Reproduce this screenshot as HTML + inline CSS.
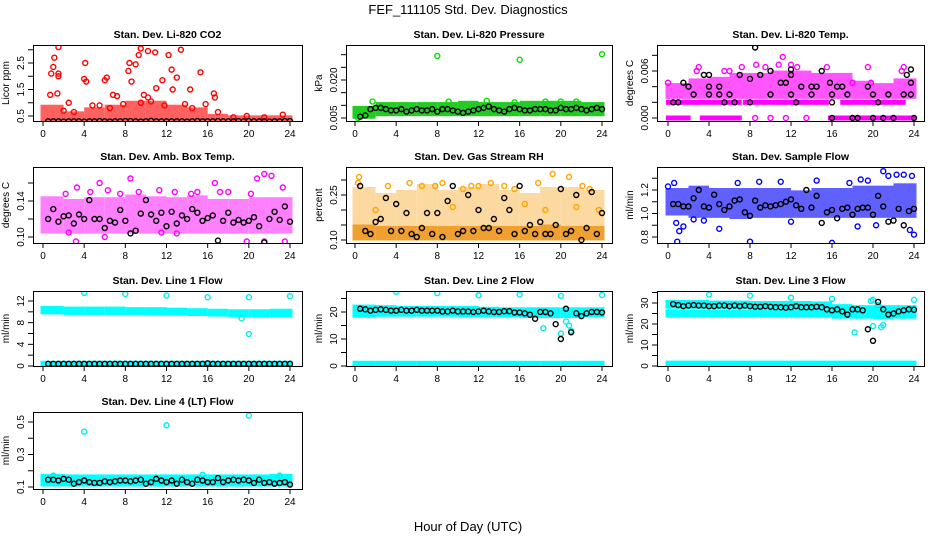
<!DOCTYPE html>
<html><head><meta charset="utf-8">
<style>
html,body{margin:0;padding:0;background:#fff;}
svg{display:block;font-family:"Liberation Sans",sans-serif;}
</style></head>
<body>
<svg id="chart" width="936" height="540" viewBox="0 0 936 540">
<text x="468" y="14" text-anchor="middle" font-size="13">FEF_111105  Std. Dev. Diagnostics</text>
<text x="468" y="531" text-anchor="middle" font-size="13">Hour of Day (UTC)</text>
</svg>
<script>
// ---------- data ----------
const halfHours = [0.5,1,1.5,2,2.5,3,3.5,4,4.5,5,5.5,6,6.5,7,7.5,8,8.5,9,9.5,10,10.5,11,11.5,12,12.5,13,13.5,14,14.5,15,15.5,16,16.5,17,17.5,18,18.5,19,19.5,20,20.5,21,21.5,22,22.5,23,23.5,24];
const binHours = [0,2,4,6,8,10,12,14,16,18,20,22];
const xTicks = [0,4,8,12,16,20,24];

// CO2
const co2BandLo = [0.3,0.3,0.3,0.3,0.3,0.3,0.3,0.3,0.3,0.3,0.3,0.3];
const co2BandHi = [0.85,0.6,0.75,0.85,1.0,1.0,0.85,0.75,0.5,0.45,0.45,0.45];
const co2H = [1.5,0.8,1.1,1.0,1.5,1.4,0.7,4.1,4.2,4.0,6.0,6.2,6.8,7.2,8.3,8.4,8.6,9.0,9.3,9.5,10.2,10.9,12.2,12.5,13.4,13.0,12.6,11.0,11.6,9.5,10.5,14.3,15.3,16.6,16.7,15.8,5.5,2.5,4.8,7.8,11.8,13.8,19.8,23.3,18.5,21.5,2,3,6.5,14.5,17,1.5,9.8,10.2];
const co2V = [3.1,2.1,2.7,2.35,2.1,1.35,1.3,2.5,1.8,1.9,1.85,1.95,1.3,1.25,2.2,2.5,1.8,2.45,2.8,3.05,2.95,2.9,2.8,2.25,3.0,1.95,1.5,1.55,1.85,1.0,1.05,1.5,2.15,1.35,1.2,0.95,0.9,1.0,0.9,0.95,0.9,0.95,0.5,0.55,0.45,0.45,0.7,0.65,0.8,0.8,0.65,2.0,1.3,1.2];
const co2Blk = [0.3,0.3,0.3,0.29,0.3,0.3,0.3,0.29,0.3,0.3,0.31,0.3,0.29,0.3,0.3,0.31,0.31,0.3,0.29,0.3,0.32,0.3,0.3,0.3,0.3,0.3,0.3,0.29,0.3,0.31,0.3,0.3,0.3,0.31,0.3,0.3,0.3,0.31,0.3,0.31,0.3,0.3,0.3,0.29,0.3,0.3,0.31,0.31];

// Pressure
const prBandLo = [0.0055,0.0065,0.0065,0.0065,0.0065,0.0065,0.0065,0.0065,0.0065,0.0065,0.0065,0.0065];
const prBandHi = [0.009,0.0105,0.0105,0.0105,0.0105,0.011,0.0105,0.0105,0.011,0.011,0.011,0.0105];
const prH = [8,16,24,0.3,1.7,9.1,12.8,18.5,20,21.5,0.1,15.5];
const prV = [0.0295,0.028,0.0302,0.005,0.0115,0.0115,0.0118,0.0115,0.0115,0.0115,0.006,0.0112];
const prBlk = [0.0055,0.006,0.0085,0.009,0.009,0.0085,0.008,0.008,0.0085,0.0075,0.008,0.0085,0.008,0.008,0.0085,0.0075,0.0085,0.0085,0.008,0.0075,0.007,0.0075,0.008,0.0085,0.009,0.0095,0.0085,0.008,0.0075,0.0085,0.009,0.0085,0.008,0.008,0.0085,0.0085,0.0085,0.008,0.008,0.009,0.0085,0.0085,0.009,0.0085,0.008,0.0085,0.009,0.0085];

// Li-820 temp
const tBandLo = [0.0027,0.0027,0.0027,0.0027,0.0027,0.0027,0.0027,0.0027,0.0027,0.0027,0.0027,0.0027];
const tBandHi = [0.0042,0.0048,0.005,0.0055,0.0055,0.0058,0.0058,0.0055,0.0055,0.0045,0.0042,0.0048];
const tSegStart = [0,3.3,15.8,0,7.5,17];
const tSegEnd = [2,7,24,7,15.5,23];
const tSegVal = [0,0,0,0.002,0.002,0.002];
const tH = [8.6,11.2,10.8,12.0,9.5,2.8,3.0,7.2,12.6,15.5,19.5,23.0,5.5,6.0,0,8.5,10,11.5,13.5,18,19.8,22.8];
const tV = [0.0068,0.0078,0.0068,0.0068,0.0065,0.006,0.0065,0.0065,0.0065,0.0065,0.0065,0.0065,0.006,0.006,0.0045,0,0,0,0,0.0045,0.0045,0.006];
const tBlkH = [0.5,1,1.5,2,2.5,3.5,4,4,4,5,5,5.5,6,6.5,7,8,8,8.5,9,10,10,11,11.5,12,12,12,12.5,13,14,14,14.5,15,15.8,16,16,16,16.5,17,17.5,18,18.5,19.5,20,20,20.5,21,21.5,22,23,23.3,23.7,23.7,23.7,24];
const tBlkV = [0.002,0.002,0.0045,0.004,0.003,0.0055,0.0055,0.004,0.003,0.004,0.003,0.002,0.003,0.002,0.0055,0.005,0.002,0.009,0.0055,0.006,0.003,0.0045,0.0045,0.0062,0.0055,0.003,0.002,0.004,0.003,0.004,0.004,0.006,0.0045,0.003,0.002,0,0.004,0.004,0.003,0,0,0.004,0,0.003,0.002,0,0.003,0,0.003,0.0055,0.0062,0.0045,0.003,0];

// Amb box temp
const abBandLo = [0.106,0.106,0.106,0.106,0.106,0.106,0.106,0.106,0.106,0.106,0.106,0.106];
const abBandHi = [0.143,0.14,0.142,0.142,0.145,0.143,0.142,0.144,0.14,0.14,0.142,0.142];
const abH = [3.3,5.5,8.5,11.3,15,16.7,20.8,21.5,22.2,23.3,3.2,19.8,21.5,23.5,6,2.5,11.5,6.3,9.3,14.4,18,2.2,4.6,7.5,12.8,17.2,20.2,13];
const abV = [0.155,0.16,0.165,0.152,0.15,0.16,0.165,0.17,0.168,0.155,0.095,0.095,0.095,0.095,0.1,0.105,0.105,0.152,0.15,0.148,0.15,0.148,0.15,0.148,0.15,0.15,0.148,0.104];
const abBlk = [0.12,0.131,0.117,0.123,0.124,0.115,0.125,0.12,0.141,0.12,0.12,0.11,0.118,0.116,0.13,0.118,0.104,0.107,0.126,0.141,0.125,0.118,0.127,0.112,0.128,0.115,0.124,0.12,0.131,0.127,0.118,0.121,0.124,0.096,0.118,0.127,0.116,0.119,0.116,0.118,0.122,0.112,0.094,0.12,0.128,0.119,0.134,0.117];

// Gas stream RH
const rhLowLo = [0.105,0.105,0.105,0.105,0.105,0.105,0.105,0.105,0.105,0.105,0.105,0.105];
const rhLowHi = [0.145,0.14,0.14,0.14,0.14,0.14,0.14,0.14,0.14,0.145,0.14,0.14];
const rhUpHi = [0.27,0.25,0.26,0.28,0.26,0.27,0.28,0.26,0.25,0.27,0.27,0.26];
const rhH = [0.4,0.3,3.2,5.3,7.8,8.5,11.3,13.2,14.5,15.5,17.8,19.2,20.8,22.1,22.8,6.5,10.5,12,2,4,9.5,16.5,18.5,21.5,23.7];
const rhV = [0.31,0.29,0.28,0.29,0.28,0.29,0.28,0.29,0.28,0.27,0.29,0.32,0.31,0.28,0.27,0.28,0.27,0.28,0.2,0.22,0.21,0.22,0.2,0.21,0.2];
const rhBlk = [0.28,0.13,0.12,0.16,0.17,0.24,0.13,0.22,0.13,0.19,0.12,0.11,0.14,0.19,0.12,0.19,0.11,0.23,0.28,0.12,0.13,0.25,0.13,0.2,0.14,0.14,0.17,0.13,0.24,0.2,0.12,0.28,0.13,0.15,0.12,0.16,0.12,0.12,0.15,0.27,0.12,0.13,0.25,0.1,0.14,0.26,0.12,0.19];

// Sample flow
const sfBandLo = [1.0,0.98,0.98,0.97,0.98,0.98,0.98,0.98,0.98,0.98,0.98,0.98];
const sfBandHi = [1.2,1.22,1.2,1.2,1.2,1.2,1.18,1.2,1.2,1.22,1.22,1.24];
const sfH = [0,0.6,0.8,1.1,1.5,0.9,5.0,8.0,16.0,24,3.5,11.0,17.7,18.8,19.5,21.0,21.5,22.3,23.0,23.8,14.5,6.8,8.9,2.5,12.0,18.5,23.6,20.3];
const sfV = [1.23,1.26,0.92,0.85,0.89,0.76,0.87,0.76,0.75,0.82,0.94,1.27,1.26,1.29,1.28,1.36,1.32,1.33,1.33,1.32,1.28,1.26,1.27,0.95,0.93,0.89,0.86,0.9];
const sfBlk = [1.08,1.08,1.06,1.06,1.13,1.2,1.06,1.05,1.16,1.08,1.03,1.06,1.11,1.12,1.01,0.98,1.11,1.05,1.07,1.06,1.07,1.08,1.1,1.12,1.07,1.04,1.2,1.05,1.15,0.92,1.01,1.03,0.96,1.04,1.05,0.99,1.04,1.05,1.05,0.99,1.15,1.06,0.93,0.94,1.04,0.9,1.02,1.04];

// Line 1 flow
const l1BandLo = [9.9,9.8,9.8,9.8,9.8,9.7,9.7,9.6,9.5,9.4,9.3,9.4];
const l1BandHi = [10.7,10.6,10.6,10.6,10.5,10.5,10.4,10.3,10.2,10.1,10.1,10.2];
const l1BaseLo = [0.2,0.2,0.2,0.2,0.2,0.2,0.2,0.2,0.2,0.2,0.2,0.2];
const l1BaseHi = [0.6,0.6,0.6,0.6,0.6,0.6,0.6,0.6,0.6,0.6,0.6,0.6];
const l1H = [4,8,12,16,20,24,20,19.3];
const l1V = [13.5,13.3,13,12.7,12.7,12.9,5.9,8.8];
const l1Blk = [0.4,0.4,0.4,0.4,0.4,0.4,0.4,0.4,0.4,0.4,0.4,0.4,0.4,0.4,0.4,0.4,0.4,0.4,0.4,0.4,0.4,0.4,0.4,0.4,0.4,0.4,0.4,0.4,0.4,0.4,0.4,0.5,0.4,0.4,0.4,0.4,0.4,0.4,0.4,0.4,0.4,0.4,0.4,0.4,0.4,0.4,0.4,0.4];

// Line 2 flow
const l2BandLo = [18.6,19,19,19,19,18.8,18.8,18.8,18.5,18.5,18.5,18.8];
const l2BandHi = [22,21.8,21.5,21.5,21.5,21.5,21.2,21,21,21,21,21];
const l2BaseLo = [0.2,0.2,0.2,0.2,0.2,0.2,0.2,0.2,0.2,0.2,0.2,0.2];
const l2BaseHi = [1.2,1.2,1.2,1.2,1.2,1.2,1.2,1.2,1.2,1.2,1.2,1.2];
const l2H = [4,8,12,16,20,24,18.3,20,20.8,21,20.5];
const l2V = [27.5,27,26.2,26.5,26,26.3,14,12,15,13,16.5];
const l2Blk = [21.2,21,20.5,20.8,21,20.8,20.5,20.5,20.8,20.5,20.5,20.8,20.5,20.5,20.5,20.5,20.2,20.2,20.5,20.2,20.2,20.2,20,20.2,20.5,20.2,20,20,20.3,20.3,19.8,19.8,19.5,19,17.5,20,20,19.5,15.5,10,21.2,12.5,19.5,18.5,19.5,20,20,19.8];

// Line 3 flow
const l3TopLo = [28.2,28.2,28.2,28.2,28.2,28.2,28.2,28.2,26.5,26.2,26.2,26.2];
const l3TopHi = [30.5,30.5,30.2,30.2,30,30,30,29.8,28.5,28,28,28];
const l3MidLo = [24,24,24,24,24,24,24,24,23.5,23.5,23.2,23.5];
const l3MidHi = [26,26,26,26,26,26,26,26,26,26,26,26];
const l3BaseLo = [0.2,0.2,0.2,0.2,0.2,0.2,0.2,0.2,0.2,0.2,0.2,0.2];
const l3BaseHi = [1.6,1.6,1.6,1.6,1.6,1.6,1.6,1.6,1.6,1.6,1.6,1.6];
const l3H = [4,8,12,16,20,24,18.2,20,20.8,21,20.5,19.8];
const l3V = [34,33.5,32.5,32,31.5,31.5,16,19,18.5,19.5,29,31];
const l3Blk = [29.5,29,28.5,28.8,29,28.8,28.8,28.5,28.5,28.8,28.8,28.5,28.8,28.5,28.8,28.5,28.2,28.2,28.5,28.2,28,28,27.8,28,28.5,28,28,28,28.2,28,27,26.5,27,26,24.5,27,27,26.5,17.5,12,30.5,27,24.5,25,26,26.5,27,26.8];

// Line 4 flow
const l4BandLo = [0.115,0.115,0.115,0.115,0.115,0.115,0.115,0.115,0.115,0.115,0.115,0.115];
const l4BandHi = [0.168,0.165,0.165,0.165,0.165,0.165,0.165,0.165,0.165,0.165,0.165,0.168];
const l4H = [4,12,20,1,15.5,23];
const l4V = [0.44,0.48,0.54,0.17,0.175,0.17];
const l4Blk = [0.145,0.145,0.14,0.15,0.145,0.12,0.13,0.14,0.13,0.125,0.125,0.135,0.13,0.135,0.14,0.14,0.135,0.14,0.145,0.12,0.13,0.15,0.14,0.13,0.14,0.12,0.145,0.13,0.12,0.145,0.14,0.13,0.13,0.155,0.13,0.14,0.145,0.14,0.145,0.14,0.125,0.145,0.125,0.13,0.12,0.125,0.13,0.115];

// ---------- layout ----------
const colX0 = [43,355,668], colX24 = [290,602,914];
const boxL = [33,346,657], boxR = [302,612,924];
const rowT = [45,167,291,412], rowB = [121,243,366,489];
const svg = document.getElementById('chart');
const NS = 'http://www.w3.org/2000/svg';
function mk(tag, attrs, parent){const e=document.createElementNS(NS,tag);for(const k in attrs)e.setAttribute(k,attrs[k]);(parent||svg).appendChild(e);return e;}

function panel(p){
  const c=p.col, r=p.row;
  const g=mk('g',{});
  
  
  const xs=h=>colX0[c]+h/24*(colX24[c]-colX0[c]);
  const ys=v=>p.py1+(v-p.v1)/(p.v2-p.v1)*(p.py2-p.py1);
  const clip=mk('clipPath',{id:'clip'+p.name},g);
  mk('rect',{x:boxL[c],y:rowT[r],width:boxR[c]-boxL[c],height:rowB[r]-rowT[r]},clip);
  const plot=mk('g',{'clip-path':'url(#clip'+p.name+')'},g);
  
  
  (p.bands||[]).forEach(b=>{
    b.lo.forEach((lo,i)=>{
      const h0=binHours[i], h1=(i+1<binHours.length?binHours[i+1]:24);
      const x0=xs(h0)-(i===0?2.5:0), x1=xs(h1)+(i===b.lo.length-1?2.5:0);
      const y0=ys(b.hi[i])-2, y1=ys(lo)+2;
      const rc=mk('rect',{x:x0,y:y0,width:x1-x0,height:y1-y0,fill:b.color},plot);
      
      
    });
  });
  (p.segs||[]).forEach((s,i)=>{
    const rc=mk('rect',{x:xs(s[0])-2,y:ys(s[2])-2.5,width:xs(s[1])-xs(s[0])+4,height:5,fill:p.color},plot);
    
    
  });
  const pt=(h,v,col,nm)=>{
    const e=mk('circle',{cx:xs(h),cy:ys(v),r:2.5,fill:'none',stroke:col,'stroke-width':1.4},plot);
    
    
  };
  p.ptH.forEach((h,i)=>pt(h,p.ptV[i],p.color,p.name+'-point'));
  p.blkH.forEach((h,i)=>pt(h,p.blkV[i],'#000',p.name+'-mean-point'));
  const bx=mk('rect',{x:boxL[c]+0.5,y:rowT[r]+0.5,width:boxR[c]-boxL[c],height:rowB[r]-rowT[r],fill:'none',stroke:'#000','stroke-width':1},g);
  
  
  const t=mk('text',{x:(boxL[c]+boxR[c])/2,y:rowT[r]-7,'text-anchor':'middle','font-size':10.5,'font-weight':'bold'},g);
  t.textContent=p.title;
  
  
  xTicks.forEach(h=>{
    const l=mk('line',{x1:xs(h),x2:xs(h),y1:rowB[r],y2:rowB[r]+5,stroke:'#000'},g);
    
    
    const tx=mk('text',{x:xs(h),y:rowB[r]+16,'text-anchor':'middle','font-size':10},g);
    tx.textContent=h;
    
    
  });
  p.yTicks.forEach(v=>{
    const y=ys(v);
    const l=mk('line',{x1:boxL[c]-5,x2:boxL[c],y1:y,y2:y,stroke:'#000'},g);
    
    
  });
  p.yLabels.forEach(s=>{
    const y=ys(parseFloat(s)), x=boxL[c]-9;
    const tx=mk('text',{x:x,y:y,'text-anchor':'middle','font-size':10,transform:'rotate(-90 '+x+' '+y+')'},g);
    tx.textContent=s;
    
    
  });
  const yx=boxL[c]-24, yy=(rowT[r]+rowB[r])/2;
  const yl=mk('text',{x:yx,y:yy,'text-anchor':'middle','font-size':10,transform:'rotate(-90 '+yx+' '+yy+')'},g);
  yl.textContent=p.ylab;
  
  
}

panel({name:'co2',col:0,row:0,title:'Stan. Dev. Li-820 CO2',ylab:'Licor ppm',color:'#ff0000',v1:0.5,py1:116,v2:2.5,py2:63,
  yTicks:[0.5,1,1.5,2,2.5,3],yLabels:['0.5','1.5','2.5'],bands:[{lo:co2BandLo,hi:co2BandHi,color:'#ff6060'}],
  ptH:co2H,ptV:co2V,blkH:halfHours,blkV:co2Blk});
panel({name:'pressure',col:1,row:0,title:'Stan. Dev. Li-820 Pressure',ylab:'kPa',color:'#00e000',v1:0.005,py1:118,v2:0.020,py2:80,
  yTicks:[0.005,0.01,0.015,0.02,0.025,0.03],yLabels:['0.005','0.020'],bands:[{lo:prBandLo,hi:prBandHi,color:'#22cc22'}],
  ptH:prH,ptV:prV,blkH:halfHours,blkV:prBlk});
panel({name:'li820-temp',col:2,row:0,title:'Stan. Dev. Li-820 Temp.',ylab:'degrees C',color:'#ff00ff',v1:0,py1:118,v2:0.006,py2:71,
  yTicks:[0,0.002,0.004,0.006,0.008],yLabels:['0.000','0.006'],bands:[{lo:tBandLo,hi:tBandHi,color:'#ff55ff'}],
  segs:tSegStart.map((s,i)=>[s,tSegEnd[i],tSegVal[i]]),
  ptH:tH,ptV:tV,blkH:tBlkH,blkV:tBlkV});
panel({name:'amb-box-temp',col:0,row:1,title:'Stan. Dev. Amb. Box Temp.',ylab:'degrees C',color:'#ff00ff',v1:0.10,py1:237,v2:0.14,py2:201,
  yTicks:[0.10,0.12,0.14,0.16],yLabels:['0.10','0.14'],bands:[{lo:abBandLo,hi:abBandHi,color:'#ff80ff'}],
  ptH:abH,ptV:abV,blkH:halfHours,blkV:abBlk});
panel({name:'gas-stream-rh',col:1,row:1,title:'Stan. Dev. Gas Stream RH',ylab:'percent',color:'#ffa500',v1:0.10,py1:240,v2:0.25,py2:195,
  yTicks:[0.10,0.15,0.20,0.25,0.30],yLabels:['0.10','0.25'],
  bands:[{lo:rhLowHi,hi:rhUpHi,color:'#fcd9a0'},{lo:rhLowLo,hi:rhLowHi,color:'#f0a030'}],
  ptH:rhH,ptV:rhV,blkH:halfHours,blkV:rhBlk});
panel({name:'sample-flow',col:2,row:1,title:'Stan. Dev. Sample Flow',ylab:'ml/min',color:'#0000ff',v1:0.8,py1:237,v2:1.2,py2:190,
  yTicks:[0.8,0.9,1.0,1.1,1.2,1.3],yLabels:['0.8','1.0','1.2'],bands:[{lo:sfBandLo,hi:sfBandHi,color:'#6060ff'}],
  ptH:sfH,ptV:sfV,blkH:halfHours,blkV:sfBlk});
panel({name:'line1-flow',col:0,row:2,title:'Stan. Dev. Line 1 Flow',ylab:'ml/min',color:'#00eeee',v1:0,py1:366,v2:12,py2:301,
  yTicks:[0,2,4,6,8,10,12],yLabels:['0','4','8','12'],
  bands:[{lo:l1BandLo,hi:l1BandHi,color:'#00ffff'},{lo:l1BaseLo,hi:l1BaseHi,color:'#00ffff'}],
  ptH:l1H,ptV:l1V,blkH:halfHours,blkV:l1Blk});
panel({name:'line2-flow',col:1,row:2,title:'Stan. Dev. Line 2 Flow',ylab:'ml/min',color:'#00eeee',v1:0,py1:366,v2:20,py2:312,
  yTicks:[0,5,10,15,20,25],yLabels:['0','10','20'],
  bands:[{lo:l2BandLo,hi:l2BandHi,color:'#00ffff'},{lo:l2BaseLo,hi:l2BaseHi,color:'#00ffff'}],
  ptH:l2H,ptV:l2V,blkH:halfHours,blkV:l2Blk});
panel({name:'line3-flow',col:2,row:2,title:'Stan. Dev. Line 3 Flow',ylab:'ml/min',color:'#00eeee',v1:0,py1:366,v2:30,py2:303,
  yTicks:[0,5,10,15,20,25,30,35],yLabels:['0','10','20','30'],
  bands:[{lo:l3TopLo,hi:l3TopHi,color:'#00ffff'},{lo:l3MidLo,hi:l3MidHi,color:'#00ffff'},{lo:l3BaseLo,hi:l3BaseHi,color:'#00ffff'}],
  ptH:l3H,ptV:l3V,blkH:halfHours,blkV:l3Blk});
panel({name:'line4-flow',col:0,row:3,title:'Stan. Dev. Line 4 (LT) Flow',ylab:'ml/min',color:'#00eeee',v1:0.1,py1:487,v2:0.5,py2:422,
  yTicks:[0.1,0.2,0.3,0.4,0.5],yLabels:['0.1','0.3','0.5'],
  bands:[{lo:l4BandLo,hi:l4BandHi,color:'#00ffff'}],
  ptH:l4H,ptV:l4V,blkH:halfHours,blkV:l4Blk});
</script>
</body></html>
